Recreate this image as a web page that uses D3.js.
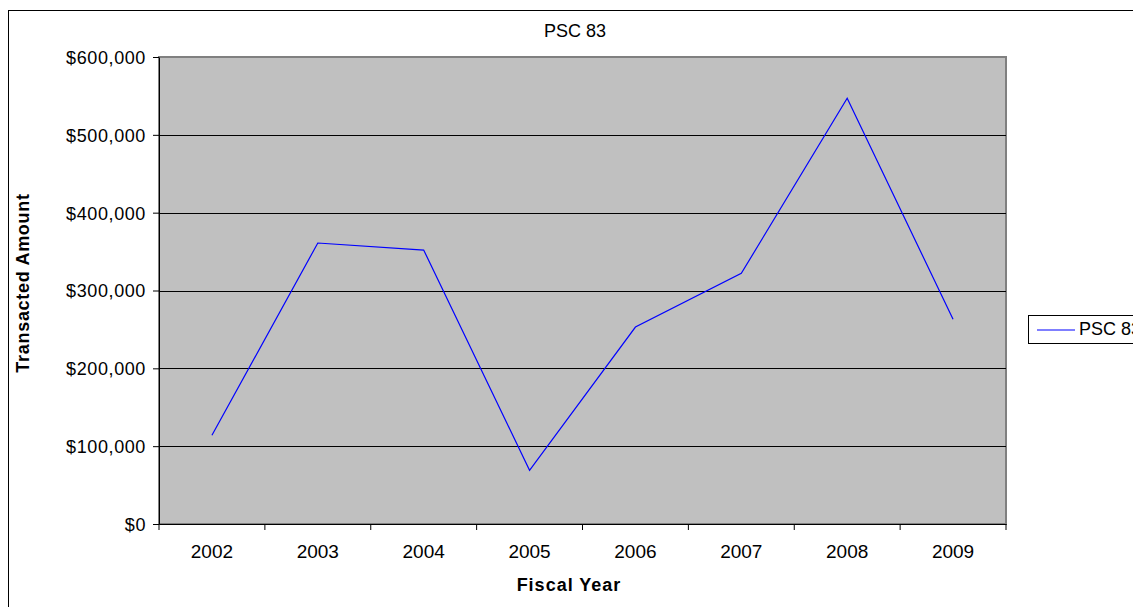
<!DOCTYPE html>
<html><head><meta charset="utf-8">
<script src="https://cdn.jsdelivr.net/npm/d3@7"></script>
<style>body{margin:0;background:#fff}svg{display:block;font-family:"Liberation Sans",Arial,sans-serif}</style>
</head><body>
<svg id="c" width="1133" height="607"></svg>
<script>
const years = ["2002","2003","2004","2005","2006","2007","2008","2009"];
const values = [114000, 361000, 352000, 69000, 253000, 322000, 547000, 263000];
const yTicks = [0, 100000, 200000, 300000, 400000, 500000, 600000];
const seriesName = "PSC 83";

const svg = d3.select("#c");
const m = {l:159, t:57, r:1006, b:524};
const x = d3.scaleBand().domain(years).range([m.l, m.r]);
const y = d3.scaleLinear().domain([0, 600000]).range([m.b, m.t]);
const fmt = d => "$" + d3.format(",")(d);

svg.append("rect").attr("x",8.5).attr("y",10.5).attr("width",1140).attr("height",620)
  .attr("fill","#fff").attr("stroke","#000").attr("stroke-width",1);

svg.append("rect").attr("x",m.l).attr("y",m.t).attr("width",m.r-m.l).attr("height",m.b-m.t)
  .attr("fill","#c0c0c0").attr("stroke","#808080").attr("stroke-width",2);

svg.append("g").selectAll("line").data(yTicks.filter(d=>d>0 && d<600000)).join("line")
  .attr("x1",m.l).attr("x2",m.r).attr("y1",d=>Math.round(y(d))+0.5).attr("y2",d=>Math.round(y(d))+0.5)
  .attr("stroke","#000").attr("stroke-width",1);

const ya = svg.append("g").attr("transform",`translate(${m.l},0)`)
  .call(d3.axisLeft(y).tickValues(yTicks).tickFormat(fmt).tickSize(6).tickSizeOuter(0));
ya.select(".domain").attr("stroke","#000");
ya.selectAll("line").attr("stroke","#000");
ya.selectAll("text").attr("font-size",18).attr("letter-spacing",0.6).attr("fill","#000").attr("x",-13).attr("dy","0.36em");

const xa = svg.append("g").attr("transform",`translate(0,${m.b})`)
  .call(d3.axisBottom(x).tickSize(0).tickSizeOuter(0));
xa.select(".domain").attr("stroke","#000");
xa.selectAll("text").attr("font-size",19).attr("fill","#000").attr("y",34).attr("dy",0);
xa.selectAll(".b").data(years.concat(["end"])).join("line")
  .attr("x1",(d,i)=>i<years.length? x(d): m.r).attr("x2",(d,i)=>i<years.length? x(d): m.r)
  .attr("y1",0).attr("y2",6).attr("stroke","#000");

const line = d3.line().x((d,i)=>x(years[i])+x.bandwidth()/2).y(d=>y(d));
svg.append("path").datum(values).attr("d",line).attr("fill","none").attr("stroke","#0000ff").attr("stroke-width",1.2);

svg.append("text").attr("x",575).attr("y",37).attr("text-anchor","middle").attr("font-size",18).text(seriesName);
svg.append("text").attr("x",569).attr("y",591).attr("text-anchor","middle").attr("font-size",18).attr("letter-spacing",1).attr("font-weight","bold").text("Fiscal Year");
svg.append("text").attr("transform","translate(29,283) rotate(-90)").attr("text-anchor","middle").attr("font-size",18).attr("letter-spacing",0.7).attr("font-weight","bold").text("Transacted Amount");

const lg = svg.append("g");
lg.append("rect").attr("x",1028.5).attr("y",315.5).attr("width",130).attr("height",28).attr("fill","#fff").attr("stroke","#000");
lg.append("line").attr("x1",1037).attr("x2",1075).attr("y1",330).attr("y2",330).attr("stroke","#0000ff").attr("stroke-width",1.2);
lg.append("text").attr("x",1079).attr("y",335).attr("font-size",18).text(seriesName);
</script>
</body></html>
